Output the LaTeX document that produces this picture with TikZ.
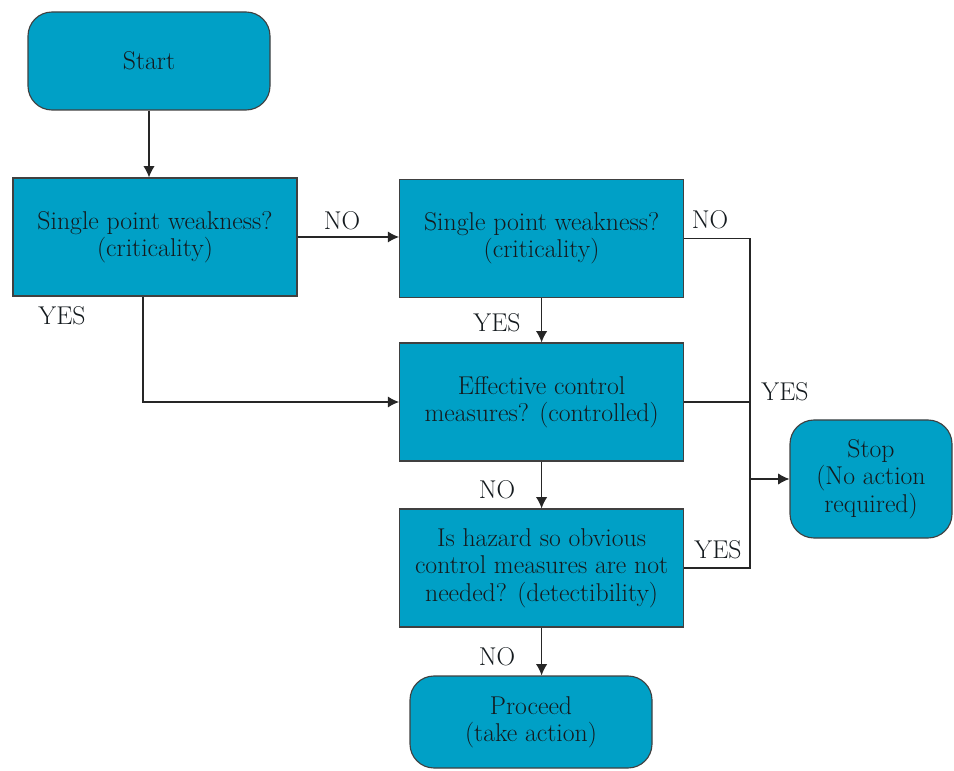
\documentclass[tikz,border=0pt]{standalone}
\usetikzlibrary{arrows.meta}
\definecolor{boxblue}{RGB}{0,160,198}
\definecolor{inkgray}{RGB}{20,26,30}
\begin{document}
\begin{tikzpicture}[>={Latex[length=8pt,width=8pt]}, font=\fontsize{18.3pt}{19.5pt}\selectfont, text=inkgray]
    \useasboundingbox (0,0) rectangle (23.85,19.25);

    % Define styles
    \tikzstyle{term}=[rectangle, rounded corners=0.6cm, draw=black!75, line width=0.8pt, fill=boxblue, align=center]
    \tikzstyle{quest}=[rectangle, draw=black!75, line width=0.8pt, fill=boxblue, minimum width=7.1cm, minimum height=2.95cm, align=center]
    \tikzstyle{link}=[draw=black!85, line width=0.9pt]

    \node[term, minimum width=6.05cm, minimum height=2.45cm] (start) at (3.725,17.725) {Start};
    \node[quest] (spw1) at (3.875,13.325) {Single point weakness?\\(criticality)};
    \node[quest] (spw2) at (13.54,13.29) {Single point weakness?\\(criticality)};
    \node[quest] (ctrl) at (13.54,9.2) {Effective control\\measures? (controlled)};
    \node[quest] (obv) at (13.54,5.05) {Is hazard so obvious\\control measures are not\\needed? (detectibility)};
    \node[term, minimum width=6.05cm, minimum height=2.3cm] (proceed) at (13.275,1.2) {Proceed\\(take action)};
    \node[term, minimum width=4.05cm, minimum height=2.95cm] (stop) at (21.775,7.275) {Stop\\(No action\\required)};

    % Answer labels
    \node (yes1) at (1.55,11.35) {YES};
    \node (no1) at (8.55,13.725) {NO};
    \node (no2) at (17.75,13.75) {NO};
    \node (yes2) at (12.425,11.175) {YES};
    \node (yes3) at (19.625,9.45) {YES};
    \node (no3) at (12.425,7.0) {NO};
    \node (yes4) at (17.95,5.5) {YES};
    \node (no4) at (12.425,2.825) {NO};

    \coordinate (bus) at (18.75,0);

    \draw[link, ->] (start.south) -- (start.south |- spw1.north);
    \draw[link, ->] (spw1.east) -- (spw1.east -| spw2.west);
    \draw[link, ->] ([xshift=-0.3cm]spw1.south) |- (ctrl.west);
    \draw[link, ->] (spw2.south) -- (ctrl.north);
    \draw[link, ->] (ctrl.south) -- (obv.north);
    \draw[link, ->] (obv.south) -- (obv.south |- proceed.north);
    \draw[link] (spw2.east) -| (obv.east -| bus) -- (obv.east);
    \draw[link] (ctrl.east) -- (ctrl.east -| bus);
    \draw[link, ->] (stop.west -| bus) -- (stop.west);
\end{tikzpicture}
\end{document}
